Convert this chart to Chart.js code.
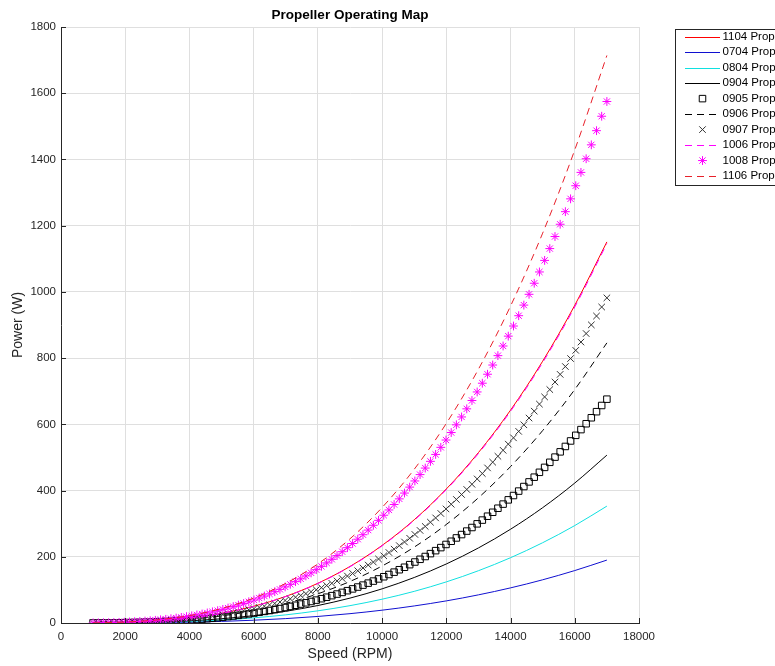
<!DOCTYPE html>
<html>
<head>
<meta charset="utf-8">
<title>Propeller Operating Map</title>
<script src="https://cdn.jsdelivr.net/npm/chart.js@4/dist/chart.umd.min.js"></script>
<style>
  html, body { margin: 0; padding: 0; background: #fff; }
  #wrap { width: 775px; height: 666px; }
</style>
</head>
<body>
<div id="wrap"><canvas id="mapChart" width="775" height="666"></canvas></div>
<script>
// speed points of the marker series (RPM)
const speedFine = [
  1000, 1162, 1323, 1485, 1646, 1808, 1970, 2131, 2293, 2455,
  2616, 2778, 2939, 3101, 3263, 3424, 3586, 3747, 3909, 4071,
  4232, 4394, 4556, 4717, 4879, 5040, 5202, 5364, 5525, 5687,
  5848, 6010, 6172, 6333, 6495, 6657, 6818, 6980, 7141, 7303,
  7465, 7626, 7788, 7949, 8111, 8273, 8434, 8596, 8758, 8919,
  9081, 9242, 9404, 9566, 9727, 9889, 10051, 10212, 10374, 10535,
  10697, 10859, 11020, 11182, 11343, 11505, 11667, 11828, 11990, 12152,
  12313, 12475, 12636, 12798, 12960, 13121, 13283, 13444, 13606, 13768,
  13929, 14091, 14253, 14414, 14576, 14737, 14899, 15061, 15222, 15384,
  15545, 15707, 15869, 16030, 16192, 16354, 16515, 16677, 16838, 17000
];

// speed points read for the plain line series (RPM)
const speedCoarse = [1000, 2000, 3000, 4000, 5000, 6000, 7000, 8000, 9000,
  10000, 11000, 12000, 13000, 14000, 15000, 16000, 17000];

// power (W)
const p1104 = [0.2, 1.9, 6.3, 15.0, 29.3, 50.6, 80.4, 120.0, 170.8, 234.3, 311.8, 404.8, 514.7, 642.9, 790.7, 959.6, 1151];
const p0704 = [0.0, 0.3, 1.0, 2.5, 4.8, 8.4, 13.3, 19.8, 28.2, 38.7, 51.5, 66.8, 85.0, 106.1, 130.5, 158.4, 190];
const p0804 = [0.1, 0.6, 1.9, 4.6, 9.0, 15.5, 24.6, 36.8, 52.4, 71.9, 95.6, 124.2, 157.9, 197.2, 242.5, 294.3, 353];
const p0904 = [0.1, 0.8, 2.8, 6.6, 12.9, 22.3, 35.4, 52.8, 75.2, 103.2, 137.4, 178.3, 226.7, 283.2, 348.3, 422.7, 507];
const p0905 = [
  0.1, 0.2, 0.3, 0.5, 0.6, 0.8, 1.1, 1.3, 1.7, 2.0,
  2.5, 2.9, 3.5, 4.1, 4.8, 5.5, 6.3, 7.2, 8.2, 9.3,
  10.4, 11.7, 13.0, 14.4, 16.0, 17.6, 19.4, 21.2, 23.2, 25.3,
  27.5, 29.9, 32.3, 35.0, 37.7, 40.6, 43.6, 46.8, 50.1, 53.6,
  57.2, 61.0, 65.0, 69.1, 73.4, 77.9, 82.6, 87.4, 92.4, 97.6,
  103.0, 108.6, 114.4, 120.4, 126.6, 133.1, 139.7, 146.5, 153.6, 160.9,
  168.4, 176.2, 184.2, 192.4, 200.8, 209.5, 218.5, 227.7, 237.2, 246.9,
  256.9, 267.1, 277.6, 288.4, 299.5, 310.8, 322.5, 334.4, 346.6, 359.1,
  371.9, 385.0, 398.4, 412.1, 426.1, 440.4, 455.1, 470.0, 485.3, 501.0,
  516.9, 533.2, 549.8, 566.8, 584.1, 601.8, 619.8, 638.2, 656.9, 676.0
];
const p0906 = [0.2, 1.4, 4.7, 11.0, 21.5, 37.2, 59.1, 88.2, 125.5, 172.2, 229.2, 297.6, 378.3, 472.5, 581.2, 705.3, 846];
const p0907 = [
  0.2, 0.3, 0.5, 0.7, 0.9, 1.2, 1.5, 1.9, 2.4, 3.0,
  3.6, 4.3, 5.1, 6.0, 6.9, 8.0, 9.2, 10.5, 11.9, 13.5,
  15.2, 17.0, 18.9, 21.0, 23.2, 25.6, 28.1, 30.8, 33.7, 36.8,
  40.0, 43.4, 47.0, 50.8, 54.8, 59.0, 63.4, 68.0, 72.8, 77.9,
  83.1, 88.7, 94.4, 100.4, 106.7, 113.2, 119.9, 127.0, 134.3, 141.8,
  149.7, 157.8, 166.2, 175.0, 184.0, 193.3, 202.9, 212.9, 223.1, 233.7,
  244.7, 255.9, 267.5, 279.5, 291.7, 304.4, 317.4, 330.8, 344.5, 358.6,
  373.1, 388.0, 403.3, 419.0, 435.1, 451.5, 468.4, 485.7, 503.5, 521.6,
  540.2, 559.2, 578.7, 598.6, 619.0, 639.8, 661.1, 682.8, 705.0, 727.7,
  750.9, 774.6, 798.7, 823.4, 848.5, 874.2, 900.4, 927.1, 954.3, 982.0
];
const p1006 = [0.2, 1.9, 6.3, 14.9, 29.1, 50.3, 79.9, 119.3, 169.9, 233.1, 310.2, 402.7, 512.0, 639.5, 786.6, 954.6, 1146];
const p1008 = [
  0.3, 0.5, 0.7, 1.0, 1.4, 1.9, 2.4, 3.1, 3.9, 4.7,
  5.7, 6.9, 8.1, 9.6, 11.1, 12.9, 14.8, 16.9, 19.2, 21.6,
  24.3, 27.2, 30.3, 33.7, 37.2, 41.1, 45.1, 49.5, 54.1, 59.0,
  64.1, 69.6, 75.4, 81.4, 87.8, 94.6, 101.6, 109.0, 116.8, 124.9,
  133.3, 142.2, 151.4, 161.1, 171.1, 181.5, 192.4, 203.6, 215.3, 227.5,
  240.1, 253.1, 266.6, 280.6, 295.1, 310.0, 325.5, 341.4, 357.9, 374.9,
  392.4, 410.4, 429.0, 448.2, 467.9, 488.2, 509.1, 530.5, 552.6, 575.2,
  598.5, 622.3, 646.8, 672.0, 697.8, 724.2, 751.3, 779.1, 807.5, 836.6,
  866.4, 896.9, 928.1, 960.1, 992.7, 1026.1, 1060.2, 1095.1, 1130.8, 1167.2,
  1204.3, 1242.3, 1281.0, 1320.6, 1360.9, 1402.1, 1444.1, 1486.9, 1530.5, 1575.0
];
const p1106 = [0.3, 2.8, 9.4, 22.3, 43.6, 75.4, 119.7, 178.6, 254.3, 348.9, 464.3, 602.9, 766.5, 957.3, 1177.4, 1429.0, 1714];

const xTicks = [0, 2000, 4000, 6000, 8000, 10000, 12000, 14000, 16000, 18000];
const yTicks = [0, 200, 400, 600, 800, 1000, 1200, 1400, 1600, 1800];

const FONT = '"Liberation Sans", Arial, Helvetica, sans-serif';
const INK = "#262626";

function pts(xs, ys) {
  return ys.map((y, i) => ({ x: xs[i], y: y }));
}

function lineSet(label, xs, ys, color, dash) {
  return {
    label: label,
    data: pts(xs, ys),
    borderColor: color,
    backgroundColor: color,
    borderWidth: 1,
    borderDash: dash || [],
    pointRadius: 0,
    cubicInterpolationMode: "monotone",
    showLine: true,
  };
}

function markerSet(label, xs, ys, color, style, radius) {
  return {
    label: label,
    data: pts(xs, ys),
    borderColor: color,
    backgroundColor: "rgba(0,0,0,0)",
    pointStyle: style,
    pointRadius: radius,
    pointBorderWidth: 1,
    showLine: false,
  };
}

const datasets = [
  lineSet("1104 Propeller", speedCoarse, p1104, "#ff0000"),
  lineSet("0704 Propeller", speedCoarse, p0704, "#1010d0"),
  lineSet("0804 Propeller", speedCoarse, p0804, "#10e0e0"),
  lineSet("0904 Propeller", speedCoarse, p0904, "#000000"),
  markerSet("0905 Propeller", speedFine, p0905, "#000000", "rect", 4.6),
  lineSet("0906 Propeller", speedCoarse, p0906, "#000000", [7, 5]),
  markerSet("0907 Propeller", speedFine, p0907, "#333333", "crossRot", 4.6),
  lineSet("1006 Propeller", speedCoarse, p1006, "#ff00ff", [7, 5]),
  markerSet("1008 Propeller", speedFine, p1008, "#ff00ff", "star", 4.4),
  lineSet("1106 Propeller", speedCoarse, p1106, "#e8202a", [7, 5]),
];
// later series drawn on top, like the original plot
datasets.forEach((d, i) => { d.order = -i; });

// title, inward tick marks and the boxed legend
const decorPlugin = {
  id: "decor",
  afterDraw(chart) {
    const ctx = chart.ctx;
    const area = chart.chartArea;
    const xs = chart.scales.x;
    const ys = chart.scales.y;
    ctx.save();

    ctx.fillStyle = "#000";
    ctx.font = "bold 13.5px " + FONT;
    ctx.textAlign = "center";
    ctx.textBaseline = "middle";
    ctx.fillText("Propeller Operating Map", (area.left + area.right) / 2, 15);

    ctx.strokeStyle = INK;
    ctx.lineWidth = 1;
    ctx.beginPath();
    xTicks.forEach((v) => {
      const px = Math.round(xs.getPixelForValue(v)) + 0.5;
      ctx.moveTo(px, area.bottom);
      ctx.lineTo(px, area.bottom - 5);
    });
    yTicks.forEach((v) => {
      const py = Math.round(ys.getPixelForValue(v)) + 0.5;
      ctx.moveTo(area.left, py);
      ctx.lineTo(area.left + 5, py);
    });
    ctx.stroke();

    // legend box
    const bx = 675.5, by = 29.5, bw = 140, bh = 156;
    ctx.fillStyle = "#fff";
    ctx.fillRect(bx, by, bw, bh);
    ctx.strokeStyle = INK;
    ctx.strokeRect(bx, by, bw, bh);

    chart.data.datasets.forEach((ds, i) => {
      const y = 36.7 + i * 15.48;
      ctx.strokeStyle = ds.borderColor;
      ctx.lineWidth = 1;
      if (ds.showLine) {
        ctx.setLineDash(ds.borderDash || []);
        ctx.beginPath();
        ctx.moveTo(685, Math.round(y) + 0.5);
        ctx.lineTo(720, Math.round(y) + 0.5);
        ctx.stroke();
        ctx.setLineDash([]);
      } else {
        const cx = 702.5, cy = y, r = ds.pointRadius;
        ctx.beginPath();
        if (ds.pointStyle === "rect") {
          const s = r * Math.SQRT1_2;
          ctx.rect(cx - s, cy - s, 2 * s, 2 * s);
        } else {
          const d = r * Math.SQRT1_2;
          ctx.moveTo(cx - d, cy - d); ctx.lineTo(cx + d, cy + d);
          ctx.moveTo(cx - d, cy + d); ctx.lineTo(cx + d, cy - d);
          if (ds.pointStyle === "star") {
            ctx.moveTo(cx, cy - r); ctx.lineTo(cx, cy + r);
            ctx.moveTo(cx - r, cy); ctx.lineTo(cx + r, cy);
          }
        }
        ctx.stroke();
      }
      ctx.fillStyle = "#000";
      ctx.font = "11.5px " + FONT;
      ctx.textAlign = "left";
      ctx.textBaseline = "middle";
      ctx.fillText(ds.label, 722.5, y);
    });
    ctx.restore();
  },
};

const canvas = document.getElementById("mapChart");
const chart = new Chart(canvas.getContext("2d"), {
  type: "scatter",
  data: { datasets: datasets },
  options: {
    responsive: false,
    animation: false,
    layout: { padding: { top: 27, right: 136, bottom: 0, left: 0 } },
    plugins: {
      legend: { display: false },
      title: { display: false },
      tooltip: { enabled: false },
    },
    scales: {
      x: {
        type: "linear",
        min: 0,
        max: 18000,
        afterFit: function (s) { s.height = 43; },
        afterBuildTicks: function (s) { s.ticks = xTicks.map((v) => ({ value: v })); },
        ticks: {
          color: INK,
          font: { family: FONT, size: 11.5 },
          padding: 7,
          maxRotation: 0,
          autoSkip: false,
          callback: (v) => String(v),
        },
        grid: { color: "#dfdfdf", drawTicks: false },
        border: { color: INK, width: 1 },
        title: {
          display: true,
          text: "Speed (RPM)",
          color: INK,
          font: { family: FONT, size: 14 },
          padding: { top: 0, bottom: 3 },
        },
      },
      y: {
        type: "linear",
        min: 0,
        max: 1800,
        afterFit: function (s) { s.width = 61; },
        afterBuildTicks: function (s) { s.ticks = yTicks.map((v) => ({ value: v })); },
        ticks: {
          color: INK,
          font: { family: FONT, size: 11.5 },
          padding: 5,
          autoSkip: false,
          callback: (v) => String(v),
        },
        grid: { color: "#dfdfdf", drawTicks: false },
        border: { color: INK, width: 1 },
        title: {
          display: true,
          text: "Power (W)",
          color: INK,
          font: { family: FONT, size: 14 },
          padding: { top: 10, bottom: 0 },
        },
      },
    },
  },
  plugins: [decorPlugin],
});
</script>
</body>
</html>
